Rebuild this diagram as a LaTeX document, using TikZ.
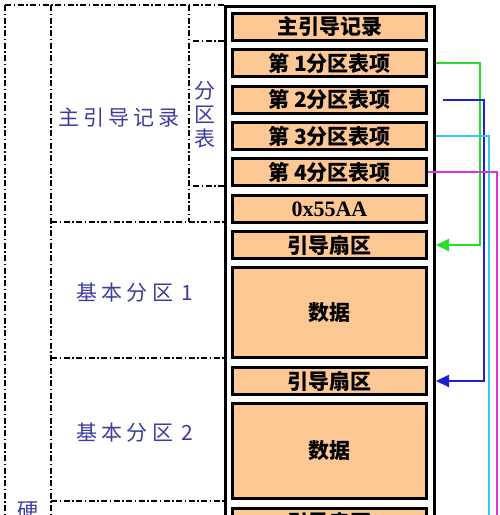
\documentclass[tikz,border=0pt]{standalone}
\usepackage{fontspec}
\usetikzlibrary{arrows.meta}
\newfontfamily\cjk{Noto Sans CJK SC}
\newfontfamily\cjkl[LetterSpace=20]{Noto Sans CJK SC}
\newfontfamily\serifb{Liberation Serif}
\definecolor{peach}{RGB}{253,200,148}
\definecolor{lblue}{RGB}{60,60,160}
\definecolor{agreen}{RGB}{40,220,40}
\definecolor{ablue}{RGB}{30,30,210}
\definecolor{acyan}{RGB}{50,200,240}
\definecolor{amag}{RGB}{220,50,220}
\newcommand{\bx}{\fontsize{21}{21}\selectfont\cjk\bfseries}
\newcommand{\lb}{\fontsize{21}{24}\selectfont\cjkl}

\begin{document}
\begin{tikzpicture}[x=1pt,y=-1pt,
  sec/.style={draw=black,line width=3pt,fill=peach,minimum width=194pt,
    minimum height=27pt,inner sep=0pt,font=\bx},
  frm/.style={line width=1.2pt,dash pattern=on 6pt off 2.5pt on 1.5pt off 2.5pt},
  lbl/.style={text=lblue,font=\lb,inner sep=0pt},
  lnk/.style={line width=2pt,-{Triangle[length=13pt,width=12pt]}}]
   \useasboundingbox (0,0) rectangle (500,515);
   \draw[frm] (  5,  5) -- (  5,520);
   \draw[frm] (  5,  5) -- (224,  5);
   \draw[frm] ( 51,  5) -- ( 51,520);
   \draw[frm] (189,  5) -- (189,222);
   \draw[frm] ( 51,222) -- (224,222);
   \draw[frm] (193, 41) -- (224, 41);
   \draw[frm] (193,186) -- (224,186);
   \draw[frm] ( 51,358) -- (224,358);
   \draw[frm] ( 51,501) -- (224,501);
   \draw[line width=3pt] (225.5,600) -- (225.5,6.5) -- (434.5,6.5) -- (434.5,600);
   \node[sec] (mbr)  at (329.5, 27.0) {主引导记录};
   \node[sec] (p1)   at (329.5, 63.0) {第 1分区表项};
   \node[sec] (p2)   at (329.5, 99.5) {第 2分区表项};
   \node[sec] (p3)   at (329.5,136.0) {第 3分区表项};
   \node[sec] (p4)   at (329.5,172.0) {第 4分区表项};
   \node[sec,font=\fontsize{22}{22}\selectfont\serifb\bfseries]
              (sig)  at (329.5,209.0) {0x55AA};
   \node[sec] (bs1)  at (329.5,245.0) {引导扇区};
   \node[sec,minimum height=90pt] (d1) at (329.5,312.5) {数据};
   \node[sec] (bs2)  at (329.5,381.0) {引导扇区};
   \node[sec,minimum height=95pt] (d2) at (329.5,451.0) {数据};
   \node[sec] (bs3)  at (329.5,522.0) {引导扇区};
   \node[lbl] (lmbr) at (119,118) {主引导记录};
   \node[lbl,align=center] (lpt) at (205,115) {分\\区\\表};
   \node[lbl] (lpa)  at (135,293) {基本分区 1};
   \node[lbl] (lpb)  at (135,433) {基本分区 2};
   \node[lbl,anchor=north] (ldisk) at (28,502) {硬};
   \coordinate (c3) at (489,530);
   \coordinate (c4) at (497,530);
   \draw[lnk,agreen] ([xshift=8pt]p1.east) -- ++(44,0) |- ([xshift=8pt]bs1.east);
   \draw[lnk,ablue]  ([xshift=15pt]p2.east) -- ++(41,0) |- ([xshift=8pt]bs2.east);
   \draw[line width=2pt,acyan] ([xshift=8pt]p3.east) -| (c3);
   \draw[line width=2pt,amag]  (p4.east) -| (c4);
\end{tikzpicture}
\end{document}
